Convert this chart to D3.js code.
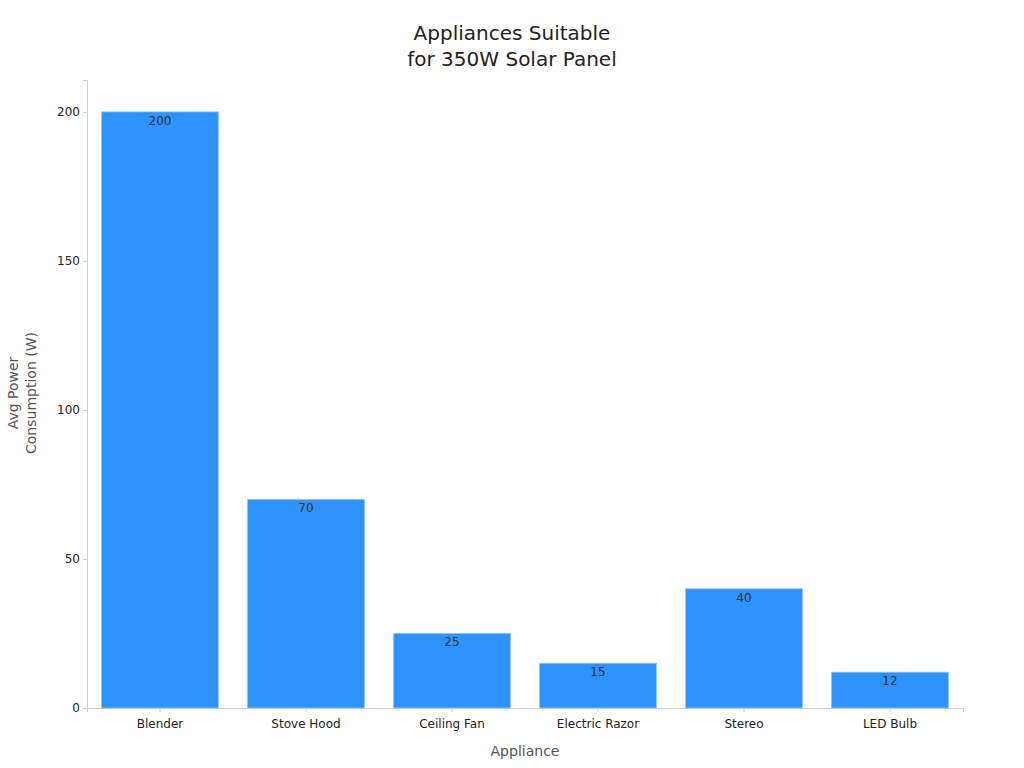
<!DOCTYPE html>
<html><head><meta charset="utf-8">
<script src="https://cdn.jsdelivr.net/npm/d3@7"></script>
<style>body{margin:0;background:#fff;font-family:"DejaVu Sans",sans-serif}</style>
</head><body><div id="chart"></div>
<script>
var categories = ["Blender", "Stove Hood", "Ceiling Fan", "Electric Razor", "Stereo", "LED Bulb"];
var values = [200, 70, 25, 15, 40, 12];
var yTicks = [0, 50, 100, 150, 200];

var w = 1024, h = 768;
var margin = {top: 80, right: 61, bottom: 60, left: 87},
    width = w - margin.left - margin.right,
    height = h - margin.top - margin.bottom;

var svg = d3.select("#chart").append("svg").attr("width", w).attr("height", h);

var x = d3.scaleBand().domain(categories).range([0, width]).paddingInner(0.2).paddingOuter(0.1);
var y = d3.scaleLinear().domain([0, 210.7]).range([height, 0]);

var g = svg.append("g").attr("transform", "translate(" + margin.left + "," + margin.top + ")");

// axes
var xa = g.append("g").attr("transform", "translate(0," + height + ")")
    .call(d3.axisBottom(x).tickSizeOuter(0).tickSize(4));
var ya = g.append("g").call(d3.axisLeft(y).tickValues(yTicks).tickSizeOuter(0).tickSize(4));
[xa, ya].forEach(function(a) {
  a.selectAll("path,line").attr("stroke", "#ccc");
  a.selectAll("text").attr("fill", "#222").style("font-size", "12px").style("font-family", "DejaVu Sans");
});
xa.selectAll("text").attr("dy", "1.05em");

// bars
g.selectAll(".bar").data(values).enter().append("rect")
  .attr("fill", "#2E93FA").attr("stroke", "#8cc2f7").attr("stroke-width", 0.8)
  .attr("x", function(d, i) { return x(categories[i]); })
  .attr("y", function(d) { return y(d); })
  .attr("width", x.bandwidth())
  .attr("height", function(d) { return height - y(d); });

g.selectAll(".lbl").data(values).enter().append("text")
  .attr("x", function(d, i) { return x(categories[i]) + x.bandwidth() / 2; })
  .attr("y", function(d) { return y(d) + 13; })
  .attr("text-anchor", "middle").attr("fill", "#333").style("font-size", "12px")
  .text(function(d) { return d; });

// titles
svg.append("text").attr("x", 512).attr("y", 40).attr("text-anchor", "middle")
  .attr("fill", "#222").style("font-size", "20px").text("Appliances Suitable");
svg.append("text").attr("x", 512).attr("y", 66).attr("text-anchor", "middle")
  .attr("fill", "#222").style("font-size", "20px").text("for 350W Solar Panel");

svg.append("text").attr("x", 525).attr("y", 756).attr("text-anchor", "middle")
  .attr("fill", "#555").style("font-size", "14px").text("Appliance");

var yl = svg.append("text").attr("transform", "translate(18,393) rotate(-90)")
  .attr("text-anchor", "middle").attr("fill", "#555").style("font-size", "14px");
yl.append("tspan").attr("x", 0).attr("dy", 0).text("Avg Power");
yl.append("tspan").attr("x", 0).attr("dy", 18).text("Consumption (W)");
</script></body></html>
